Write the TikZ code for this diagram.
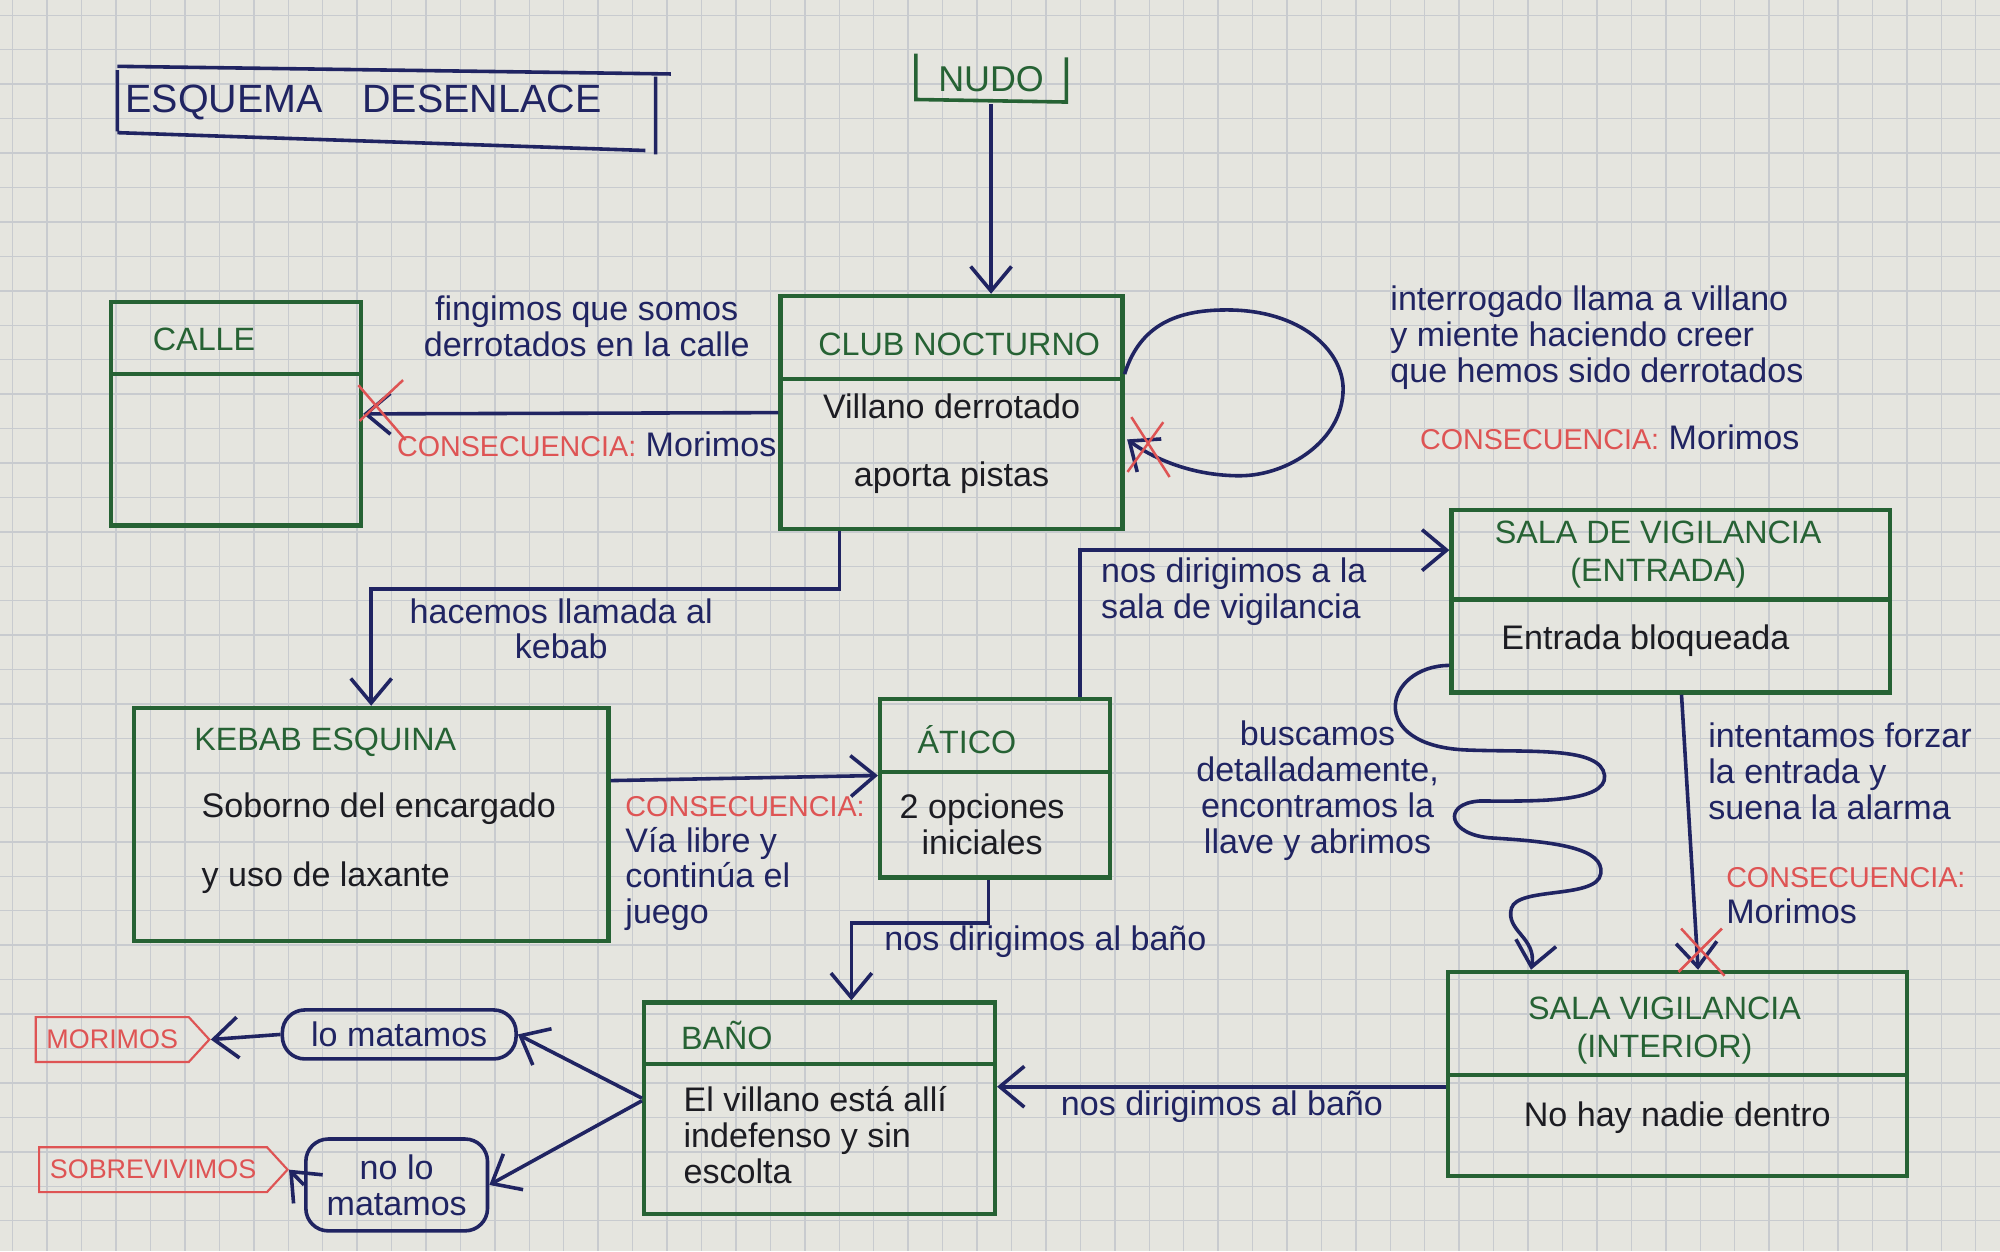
\documentclass[tikz,border=0pt]{standalone}
\usepackage{fontspec}
\setmainfont{Liberation Sans}
\usetikzlibrary{arrows.meta,calc,fit,shapes.symbols}
\definecolor{papel}{RGB}{229,229,223}
\definecolor{rejillagris}{RGB}{200,203,207}
\definecolor{verde}{RGB}{38,98,52}
\definecolor{tinta}{RGB}{32,36,98}
\definecolor{rojo}{RGB}{222,84,84}
\definecolor{negro}{RGB}{28,28,34}

\begin{document}
\begin{tikzpicture}[x=0.0125cm, y=-0.0125cm,
  caja/.style = {draw=verde, line width=1.2pt, inner sep=0pt},
  cabecera/.style = {text=verde, font=\fontsize{9}{10.5}\selectfont, align=center},
  cuerpo/.style = {text=negro, font=\fontsize{9.5}{10}\selectfont, align=center},
  nota/.style = {text=tinta, font=\fontsize{9.5}{10}\selectfont, align=left, inner sep=1pt},
  aviso/.style = {text=rojo, font=\fontsize{8}{10}\selectfont},
  flecha/.style = {draw=tinta, line width=1pt, -{Straight Barb[length=2.4mm, width=4mm]}},
  cruz/.style = {draw=rojo, line width=0.7pt},
  desenlace/.style = {signal, signal to=east, signal pointer angle=95, draw=rojo, line width=0.6pt, text=rojo, font=\fontsize{7.5}{9}\selectfont, minimum height=0.44cm, inner xsep=3pt},
  pildora/.style = {draw=tinta, line width=1pt, rounded corners=0.22cm, text=tinta, font=\fontsize{9.5}{10}\selectfont, align=center, inner sep=2pt}]

  % papel cuadriculado
  \useasboundingbox (0,0) rectangle (1568,981);
  \fill[papel] (0,0) rectangle (1568,981);
  \foreach \gx in {10,37,...,1568} \draw[rejillagris, line width=0.4pt] (\gx,0) -- (\gx,981);
  \foreach \gy in {12,39,...,981} \draw[rejillagris, line width=0.4pt] (0,\gy) -- (1568,\gy);

  % titulo
  \node[text=tinta, font=\fontsize{11}{13}\selectfont] (titulo) at (285,80) {ESQUEMA\quad DESENLACE};
  \draw[tinta, line width=1pt] (92,52) -- (526,58) (92,55) -- (92,103) (92,104) -- (506,118) (514,60) -- (514,121);

  \node[cabecera, font=\fontsize{10}{12}\selectfont] (nudo) at (777,62) {NUDO};
  \draw[verde, line width=1pt] (718,42) -- (718,78) -- (836,80) -- (836,45);

  % cajas
  \node[caja, fit={(87,237) (283,412)}] (calle) {};
  \node[caja, fit={(612,232) (880,415)}] (club) {};
  \node[caja, fit={(105,555) (477,738)}] (kebab) {};
  \node[caja, fit={(690,548) (870,688)}] (atico) {};
  \node[caja, fit={(1138,400) (1482,543)}] (entrada) {};
  \node[caja, fit={(1135,762) (1495,922)}] (interior) {};
  \node[caja, fit={(505,786) (780,952)}] (bano) {};
  \draw[caja] (87,293) -- (283,293) (612,297) -- (880,297) (690,605) -- (870,605)
    (1138,470) -- (1482,470) (1135,843) -- (1495,843) (505,834) -- (780,834);

  \node[cabecera] (calleT) at (160,266) {CALLE};
  \node[cabecera] (clubT) at (752,270) {CLUB NOCTURNO};
  \node[cuerpo] (clubB) at (746,348) {Villano derrotado\\[9pt]aporta pistas};
  \node[cabecera] (kebabT) at (255,582) {KEBAB ESQUINA};
  \node[cuerpo, align=left] (kebabB) at (297,661) {Soborno del encargado\\[9pt]y uso de laxante};
  \node[cabecera] (aticoT) at (758,580) {ÁTICO};
  \node[cuerpo] (aticoB) at (770,646) {2 opciones\\iniciales};
  \node[cabecera] (entradaT) at (1300,435) {SALA DE VIGILANCIA\\(ENTRADA)};
  \node[cuerpo] (entradaB) at (1290,502) {Entrada bloqueada};
  \node[cabecera] (interiorT) at (1305,808) {SALA VIGILANCIA\\(INTERIOR)};
  \node[cuerpo] (interiorB) at (1315,876) {No hay nadie dentro};
  \node[cabecera, anchor=west] (banoT) at (524,812) {BAÑO};
  \node[cuerpo, anchor=west, align=left] (banoB) at (526,890) {El villano está allí\\indefenso y sin\\escolta};

  % conexiones
  \draw[flecha] (nudo.south) -- (nudo.south |- club.north);
  \draw[flecha] (club.west) -- (calle.east);
  \draw[flecha] ($(club.north east)+(0,63)$) .. controls (895,250) and (930,243) .. (962,243)
    .. controls (1020,243) and (1053,275) .. (1053,305) .. controls (1053,345) and (1010,373) .. (972,373)
    .. controls (935,373) and (905,360) .. ($(club.east)+(2,21)$);
  \draw[flecha] ($(club.south west)+(48,0)$) -- ++(0,45) -| (kebab.north);
  \draw[flecha] ($(kebab.east |- atico.west)+(0,-6)$) -- ($(atico.west)+(0,-10)$);
  \draw[flecha] ($(atico.north east)+(-25,0)$) |- ($(entrada.north west)+(0,33)$);
  \draw[flecha] ($(entrada.south west)+(182,0)$) -- ($(interior.north west)+(198,0)$);
  \draw[flecha] ($(entrada.south west)+(0,-23)$) .. controls (1085,522) and (1070,585) .. (1150,588)
    .. controls (1200,590) and (1255,585) .. (1258,608) .. controls (1260,630) and (1200,628) .. (1160,628)
    .. controls (1130,630) and (1135,655) .. (1170,657) .. controls (1220,660) and (1258,665) .. (1255,685)
    .. controls (1252,705) and (1190,695) .. (1185,712) .. controls (1180,730) and (1205,735) .. ($(interior.north west)+(67,0)$);
  \draw[flecha] ($(interior.west)+(0,10)$) -- ($(bano.east)+(0,-17)$);
  \draw[flecha] ($(atico.south)+(-5,0)$) -- ++(0,34) -| ($(bano.north)+(25,0)$);

  % cruces rojas
  \draw[cruz] (281,302) -- (318,345) (316,298) -- (282,330);
  \draw[cruz] (887,327) -- (917,374) (912,331) -- (884,370);
  \draw[cruz] (1318,728) -- (1352,765) (1350,728) -- (1316,762);

  % finales
  \node[pildora, minimum width=2.29cm, minimum height=0.48cm] (mata) at (313,811) {lo matamos};
  \node[pildora, minimum width=1.78cm, minimum height=0.9cm] (nomata) at (311,929) {no lo\\matamos};
  \node[desenlace, minimum width=1.7cm] (morimos) at (88,815) {MORIMOS};
  \node[desenlace, minimum width=2.4cm] (sobrevivimos) at (120,917) {SOBREVIVIMOS};
  \draw[flecha] ($(bano.west)+(0,-8)$) -- (mata.east);
  \draw[flecha] ($(bano.west)+(0,-6)$) -- (nomata.east);
  \draw[flecha] (mata.west) -- (morimos.east);
  \draw[flecha] (nomata.west) -- (sobrevivimos.east);

  % etiquetas
  \node[nota, align=center] (fingimos) at (460,256) {fingimos que somos\\derrotados en la calle};
  \node[nota] (conCalle) at (460,348) {\textcolor{rojo}{\fontsize{8}{10}\selectfont CONSECUENCIA:} Morimos};
  \node[nota] (interrogado) at (1252,265) {interrogado llama a villano\\y miente haciendo creer\\que hemos sido derrotados};
  \node[nota] (conLazo) at (1262,343) {\textcolor{rojo}{\fontsize{8}{10}\selectfont CONSECUENCIA:} Morimos};
  \node[nota, align=center] (llamada) at (440,493) {hacemos llamada al\\kebab};
  \node[nota, anchor=west] (vialibre) at (487,677) {\textcolor{rojo}{\fontsize{8}{10}\selectfont CONSECUENCIA:}\\Vía libre y\\continúa el\\juego};
  \node[nota, anchor=west] (dirigimosSala) at (860,464) {nos dirigimos a la\\sala de vigilancia};
  \node[nota, align=center] (buscamos) at (1033,620) {buscamos\\detalladamente,\\encontramos la\\llave y abrimos};
  \node[nota, anchor=west] (forzar) at (1336,605) {intentamos forzar\\la entrada y\\suena la alarma};
  \node[nota, anchor=west] (conAlarma) at (1350,702) {\textcolor{rojo}{\fontsize{8}{10}\selectfont CONSECUENCIA:}\\Morimos};
  \node[nota, anchor=west] (dirigimosBano) at (690,738) {nos dirigimos al baño};
  \node[nota] (dirigimosBano2) at (958,868) {nos dirigimos al baño};
\end{tikzpicture}
\end{document}
